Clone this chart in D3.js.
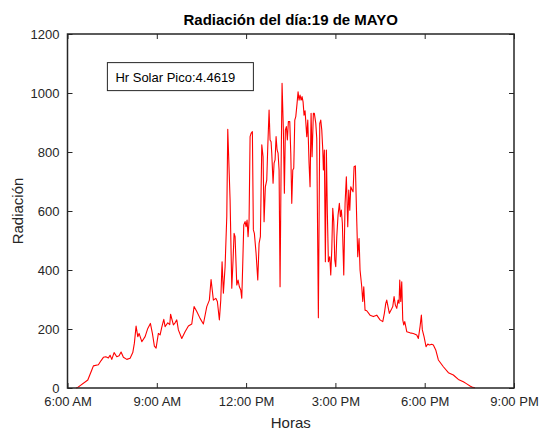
<!DOCTYPE html>
<html>
<head>
<meta charset="utf-8">
<script src="https://cdn.jsdelivr.net/npm/d3@7"></script>
<style>
  html, body { margin: 0; padding: 0; background: #ffffff; }
  svg { display: block; }
  text { font-family: "Liberation Sans", Arial, Helvetica, sans-serif; }
</style>
</head>
<body>
<svg id="chart" width="540" height="432"></svg>
<script>
// ---- data ----
const hours = [
  6.29, 6.346, 6.682, 6.816, 6.870, 7.038, 7.129, 7.206, 7.287, 7.374, 7.431, 7.488,
  7.565, 7.656, 7.733, 7.800, 7.878, 7.992, 8.103, 8.193, 8.247, 8.304, 8.361, 8.405,
  8.496, 8.607, 8.697, 8.785, 8.852, 8.919, 8.976, 9.053, 9.111, 9.168, 9.235, 9.278,
  9.369, 9.436, 9.463, 9.557, 9.614, 9.671, 9.725, 9.839, 9.950, 10.061, 10.175, 10.252,
  10.343, 10.454, 10.565, 10.679, 10.766, 10.823, 10.901, 10.981, 11.035, 11.102, 11.149, 11.193,
  11.237, 11.294, 11.351, 11.384, 11.418, 11.462, 11.519, 11.562, 11.596, 11.630, 11.687, 11.730,
  11.774, 11.821, 11.855, 11.888, 11.922, 11.966, 11.999, 12.033, 12.066, 12.100, 12.134, 12.167,
  12.211, 12.244, 12.278, 12.335, 12.392, 12.436, 12.480, 12.527, 12.570, 12.604, 12.647, 12.694,
  12.728, 12.772, 12.805, 12.839, 12.862, 12.906, 12.940, 12.973, 13.007, 13.041, 13.074, 13.108,
  13.141, 13.175, 13.208, 13.252, 13.286, 13.319, 13.353, 13.386, 13.420, 13.467, 13.501, 13.534,
  13.568, 13.601, 13.635, 13.669, 13.712, 13.746, 13.779, 13.813, 13.847, 13.880, 13.914, 13.947,
  13.981, 14.038, 14.072, 14.115, 14.149, 14.183, 14.216, 14.260, 14.293, 14.341, 14.374, 14.428,
  14.475, 14.508, 14.542, 14.576, 14.596, 14.629, 14.663, 14.697, 14.730, 14.764, 14.811, 14.844,
  14.878, 14.911, 14.945, 14.979, 15.012, 15.046, 15.089, 15.133, 15.167, 15.200, 15.234, 15.281,
  15.325, 15.368, 15.415, 15.449, 15.483, 15.516, 15.560, 15.593, 15.627, 15.671, 15.718, 15.751,
  15.795, 15.828, 15.885, 15.919, 15.953, 15.996, 16.053, 16.164, 16.275, 16.389, 16.500, 16.591,
  16.645, 16.692, 16.725, 16.779, 16.813, 16.870, 16.927, 16.971, 17.014, 17.061, 17.105, 17.139,
  17.162, 17.196, 17.229, 17.263, 17.296, 17.330, 17.364, 17.397, 17.508, 17.619, 17.733, 17.787,
  17.844, 17.888, 17.921, 17.978, 18.045, 18.103, 18.156, 18.237, 18.291, 18.371, 18.459, 18.627,
  18.795, 18.963, 19.130, 19.298, 19.413, 19.523, 19.614, 19.691
];
const radiation = [
  0, 2, 27, 61, 75, 79, 93, 104, 106, 102, 111, 97,
  120, 106, 109, 122, 104, 97, 101, 120, 152, 210, 174, 185,
  157, 174, 202, 219, 185, 142, 135, 185, 180, 206, 233, 208,
  221, 215, 250, 214, 221, 231, 197, 168, 191, 210, 217, 276,
  259, 236, 217, 276, 298, 368, 298, 304, 293, 231, 298, 428,
  321, 411, 581, 877, 773, 637, 338, 434, 524, 513, 349, 366,
  343, 332, 304, 423, 553, 564, 547, 569, 513, 569, 852, 863,
  869, 536, 524, 457, 366, 490, 513, 824, 784, 564, 682, 705,
  818, 942, 841, 835, 796, 694, 762, 773, 852, 807, 796, 739,
  343, 739, 1033, 875, 660, 875, 886, 841, 903, 903, 796, 626,
  739, 745, 908, 920, 965, 1004, 976, 993, 976, 988, 970, 925,
  940, 852, 908, 762, 682, 931, 784, 931, 931, 897, 846, 238,
  897, 908, 875, 807, 739, 807, 428, 807, 592, 428, 445, 383,
  468, 609, 564, 434, 411, 513, 586, 626, 581, 603, 558, 383,
  626, 716, 547, 671, 603, 682, 671, 665, 750, 753, 564, 445,
  507, 400, 343, 293, 343, 264, 262, 247, 242, 247, 231, 225,
  253, 287, 298, 270, 253, 264, 276, 310, 281, 270, 298, 287,
  366, 293, 360, 231, 214, 225, 208, 191, 187, 185, 180, 168,
  208, 247, 197, 174, 140, 149, 146, 148, 146, 129, 95, 72,
  52, 44, 29, 21, 14, 7, 2, 1
];
const xTicks = [6, 9, 12, 15, 18, 21];
const xTickLabels = ["6:00 AM", "9:00 AM", "12:00 PM", "3:00 PM", "6:00 PM", "9:00 PM"];
const yTicks = [0, 200, 400, 600, 800, 1000, 1200];
const titleText = "Radiación del día:19 de MAYO";
const xLabelText = "Horas";
const yLabelText = "Radiación";
const annotationText = "Hr Solar Pico:4.4619";

// ---- layout ----
const W = 540, H = 432;
const margin = { left: 67.5, right: 26, top: 34, bottom: 44 };
const innerW = W - margin.left - margin.right;
const innerH = H - margin.top - margin.bottom;
const axisColor = "#262626";

const svg = d3.select("#chart");
const g = svg.append("g").attr("transform", `translate(${margin.left},${margin.top})`);

const x = d3.scaleLinear().domain([6, 21]).range([0, innerW]);
const y = d3.scaleLinear().domain([0, 1200]).range([innerH, 0]);

const data = hours.map((h, i) => ({ h, v: radiation[i] }));

// line
const line = d3.line().x(d => x(d.h)).y(d => y(d.v));
g.append("path")
  .datum(data)
  .attr("fill", "none")
  .attr("stroke", "#ff0000")
  .attr("stroke-width", 1.1)
  .attr("stroke-linejoin", "round")
  .attr("d", line);

// axes
function styleAxis(sel) {
  sel.selectAll(".domain").remove();
  sel.selectAll(".tick line").attr("stroke", axisColor).attr("stroke-width", 1);
  sel.selectAll(".tick text").attr("fill", axisColor).style("font-size", "13px")
     .style("font-family", "'Liberation Sans', Arial, sans-serif");
}

const xAxis = g.append("g").attr("transform", `translate(0,${innerH})`)
  .call(d3.axisBottom(x).tickValues(xTicks).tickFormat((d, i) => xTickLabels[i])
        .tickSizeInner(-5).tickSizeOuter(0).tickPadding(9));
styleAxis(xAxis);

const xAxisTop = g.append("g")
  .call(d3.axisTop(x).tickValues(xTicks).tickFormat("").tickSizeInner(-5).tickSizeOuter(0));
styleAxis(xAxisTop);

const yAxis = g.append("g")
  .call(d3.axisLeft(y).tickValues(yTicks).tickFormat(d3.format("d"))
        .tickSizeInner(-5).tickSizeOuter(0).tickPadding(8));
styleAxis(yAxis);

const yAxisRight = g.append("g").attr("transform", `translate(${innerW},0)`)
  .call(d3.axisRight(y).tickValues(yTicks).tickFormat("").tickSizeInner(-5).tickSizeOuter(0));
styleAxis(yAxisRight);

// frame
g.append("rect")
  .attr("x", 0).attr("y", 0).attr("width", innerW).attr("height", innerH)
  .attr("fill", "none").attr("stroke", axisColor).attr("stroke-width", 1.5);

// annotation box
const ann = g.append("g").attr("transform", `translate(${x(7.34)},${y(1103)})`);
ann.append("rect").attr("x", 0).attr("y", 0).attr("width", 146).attr("height", 28)
  .attr("fill", "#ffffff").attr("stroke", axisColor).attr("stroke-width", 1);
ann.append("text").attr("x", 8).attr("y", 19).attr("fill", "#000")
  .style("font-size", "13px").text(annotationText);

// title and labels
svg.append("text").attr("x", margin.left + innerW / 2).attr("y", 25)
  .attr("text-anchor", "middle").style("font-size", "15px").style("font-weight", "bold")
  .attr("fill", "#000").text(titleText);

svg.append("text").attr("x", margin.left + innerW / 2).attr("y", 428)
  .attr("text-anchor", "middle").style("font-size", "15px").attr("fill", axisColor)
  .text(xLabelText);

svg.append("text")
  .attr("transform", `translate(23,${margin.top + innerH / 2}) rotate(-90)`)
  .attr("text-anchor", "middle").style("font-size", "15px").attr("fill", axisColor)
  .text(yLabelText);
</script>
</body>
</html>
